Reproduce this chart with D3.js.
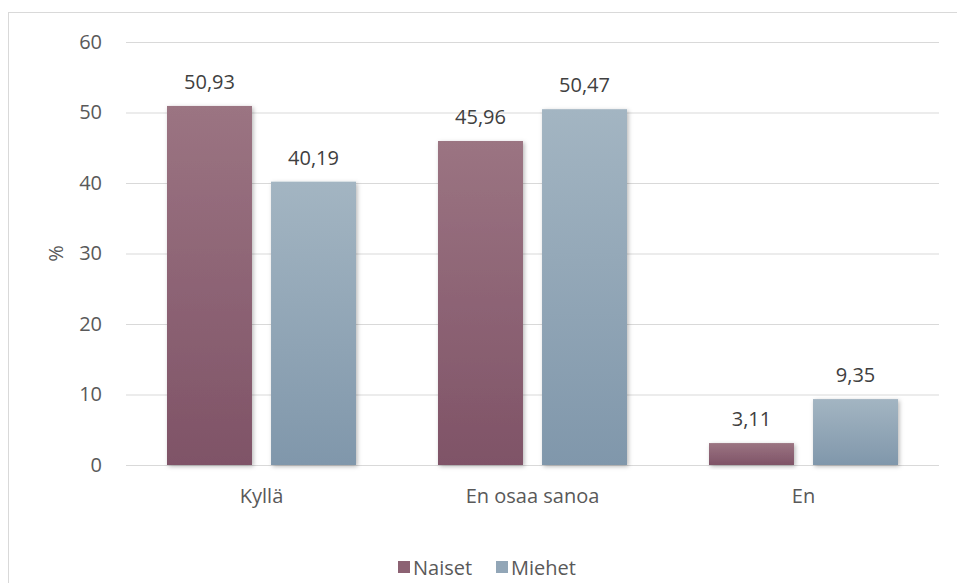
<!DOCTYPE html>
<html>
<head>
<meta charset="utf-8">
<script src="https://cdn.jsdelivr.net/npm/d3@7/dist/d3.min.js"></script>
<style>
  html, body { margin: 0; padding: 0; background: #fff; }
  svg { display: block; }
  text { font-family: "Open Sans", "Noto Sans", sans-serif; }
</style>
</head>
<body>
<svg id="chart" width="957" height="583"></svg>
<script>
const categories = ["Kyllä", "En osaa sanoa", "En"];
const seriesNames = ["Naiset", "Miehet"];
const naiset = [50.93, 45.96, 3.11];
const miehet = [40.19, 50.47, 9.35];
const yTicks = [0, 10, 20, 30, 40, 50, 60];
const yLabel = "%";

const W = 957, H = 583;
const margin = { left: 126, right: 18, top: 42, bottom: 118 };
const svg = d3.select("#chart");

const defs = svg.append("defs");
const grads = [
  { id: "gN", top: "#9b7482", bottom: "#7f5367" },
  { id: "gM", top: "#a3b5c2", bottom: "#8097ab" }
];
grads.forEach(g => {
  const lg = defs.append("linearGradient").attr("id", g.id)
    .attr("x1", 0).attr("y1", 0).attr("x2", 0).attr("y2", 1);
  lg.append("stop").attr("offset", "0%").attr("stop-color", g.top);
  lg.append("stop").attr("offset", "100%").attr("stop-color", g.bottom);
});
const f = defs.append("filter").attr("id", "sh")
  .attr("x", "-10%").attr("y", "-10%").attr("width", "130%").attr("height", "130%");
f.append("feDropShadow").attr("dx", 1.5).attr("dy", 1.5).attr("stdDeviation", 2)
  .attr("flood-color", "#000").attr("flood-opacity", 0.28);

// chart border
svg.append("rect").attr("x", 8.5).attr("y", 12.5).attr("width", W).attr("height", H)
  .attr("fill", "none").attr("stroke", "#d9d9d9").attr("stroke-width", 1);

const x0 = d3.scaleBand().domain(categories)
  .range([margin.left, W - margin.right]).paddingInner(0).paddingOuter(0);
const bandPad = 41;
const x1 = d3.scaleBand().domain(seriesNames)
  .range([bandPad, x0.bandwidth() - bandPad]).paddingInner(0.183);
const y = d3.scaleLinear().domain([0, 60]).range([H - margin.bottom, margin.top]);

// gridlines
const grid = svg.append("g").attr("transform", `translate(${margin.left},0)`)
  .call(d3.axisLeft(y).tickValues(yTicks).tickSize(-(W - margin.right - margin.left)).tickFormat(""));
grid.select(".domain").remove();
grid.selectAll("line").attr("stroke", "#d9d9d9").attr("stroke-width", 1);

// y axis labels
const yAx = svg.append("g").attr("transform", `translate(${margin.left},0)`)
  .call(d3.axisLeft(y).tickValues(yTicks).tickSize(0).tickPadding(24).tickFormat(d3.format("d")));
yAx.select(".domain").remove();
yAx.selectAll("text").attr("font-size", 20).attr("fill", "#595959")
  .attr("font-family", "'Open Sans', sans-serif");

svg.append("text").attr("transform", `translate(63,${y(30)}) rotate(-90)`)
  .attr("text-anchor", "middle").attr("font-size", 20).attr("fill", "#595959").text(yLabel);

// x axis labels
const xAx = svg.append("g").attr("transform", `translate(0,${y(0)})`)
  .call(d3.axisBottom(x0).tickSize(0).tickPadding(24));
xAx.select(".domain").remove();
xAx.selectAll("text").attr("font-size", 20).attr("fill", "#595959")
  .attr("font-family", "'Open Sans', sans-serif");

// bars
const data = categories.map((c, i) => ({ c, vals: [
  { s: "Naiset", v: naiset[i], g: "gN" },
  { s: "Miehet", v: miehet[i], g: "gM" }
]}));
const groups = svg.append("g").selectAll("g").data(data).join("g")
  .attr("transform", d => `translate(${x0(d.c)},0)`);
groups.selectAll("rect").data(d => d.vals).join("rect")
  .attr("x", d => x1(d.s)).attr("width", x1.bandwidth())
  .attr("y", d => y(d.v)).attr("height", d => y(0) - y(d.v))
  .attr("fill", d => `url(#${d.g})`).attr("filter", "url(#sh)");
groups.selectAll("text.lbl").data(d => d.vals).join("text").attr("class", "lbl")
  .attr("x", d => x1(d.s) + x1.bandwidth() / 2).attr("y", d => y(d.v) - 17)
  .attr("text-anchor", "middle").attr("font-size", 20).attr("fill", "#404040")
  .text(d => d3.format(".2f")(d.v).replace(".", ","));

// legend
const legend = svg.append("g").attr("transform", "translate(398,575)");
const legCols = ["#8c6273", "#92a6b7"];
const legX = [0, 98];
seriesNames.forEach((s, i) => {
  legend.append("rect").attr("x", legX[i]).attr("y", -14).attr("width", 12).attr("height", 12)
    .attr("fill", legCols[i]);
  legend.append("text").attr("x", legX[i] + 15).attr("y", 0).attr("font-size", 20)
    .attr("fill", "#595959").text(s);
});
</script>
</body>
</html>
